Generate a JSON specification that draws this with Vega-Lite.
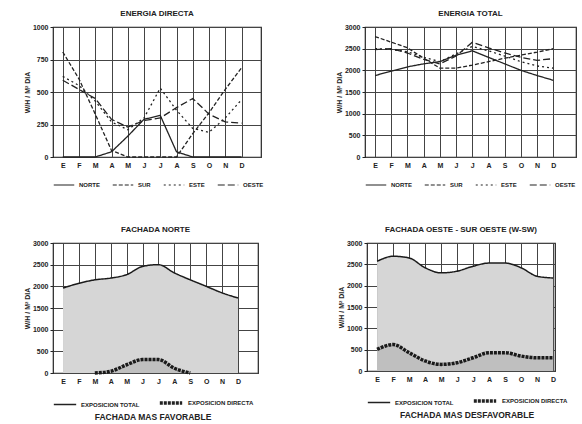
{
  "$schema": "https://vega.github.io/schema/vega-lite/v6.json",
  "background": "white",
  "padding": {"left": 22, "top": 9, "right": 2, "bottom": 0},
  "config": {
    "font": "Liberation Sans",
    "view": {"stroke": "#222", "strokeWidth": 1.2},
    "axis": {
      "labelFont": "Liberation Sans", "labelFontSize": 7, "labelFontWeight": "bold", "labelColor": "#222",
      "titleFont": "Liberation Sans", "titleFontSize": 7, "titleFontWeight": "bold", "titleColor": "#222",
      "domain": false, "grid": true, "gridColor": "#444", "gridOpacity": 1, "gridWidth": 1, "tickColor": "#222", "zindex": 1
    },
    "title": {"font": "Liberation Sans", "fontSize": 8, "fontWeight": "bold", "color": "#222", "offset": 5},
    "legend": {"labelFont": "Liberation Sans", "labelFontSize": 6, "labelFontWeight": "bold", "labelColor": "#222",
      "titleFont": "Liberation Sans", "titleColor": "#222"}
  },
  "datasets": {
    "directa": [
      {"mes": 1, "orient": "NORTE", "v": 0}, {"mes": 2, "orient": "NORTE", "v": 0}, {"mes": 3, "orient": "NORTE", "v": 0},
      {"mes": 4, "orient": "NORTE", "v": 40}, {"mes": 5, "orient": "NORTE", "v": 160}, {"mes": 6, "orient": "NORTE", "v": 290},
      {"mes": 7, "orient": "NORTE", "v": 320}, {"mes": 8, "orient": "NORTE", "v": 40}, {"mes": 9, "orient": "NORTE", "v": 0},
      {"mes": 10, "orient": "NORTE", "v": 0}, {"mes": 11, "orient": "NORTE", "v": 0}, {"mes": 12, "orient": "NORTE", "v": 0},
      {"mes": 1, "orient": "SUR", "v": 808}, {"mes": 2, "orient": "SUR", "v": 600}, {"mes": 3, "orient": "SUR", "v": 330},
      {"mes": 4, "orient": "SUR", "v": 50}, {"mes": 5, "orient": "SUR", "v": 0}, {"mes": 6, "orient": "SUR", "v": 0},
      {"mes": 7, "orient": "SUR", "v": 0}, {"mes": 8, "orient": "SUR", "v": 0}, {"mes": 9, "orient": "SUR", "v": 180},
      {"mes": 10, "orient": "SUR", "v": 340}, {"mes": 11, "orient": "SUR", "v": 520}, {"mes": 12, "orient": "SUR", "v": 685},
      {"mes": 1, "orient": "ESTE", "v": 620}, {"mes": 2, "orient": "ESTE", "v": 550}, {"mes": 3, "orient": "ESTE", "v": 430},
      {"mes": 4, "orient": "ESTE", "v": 270}, {"mes": 5, "orient": "ESTE", "v": 210}, {"mes": 6, "orient": "ESTE", "v": 300},
      {"mes": 7, "orient": "ESTE", "v": 530}, {"mes": 8, "orient": "ESTE", "v": 360}, {"mes": 9, "orient": "ESTE", "v": 220},
      {"mes": 10, "orient": "ESTE", "v": 190}, {"mes": 11, "orient": "ESTE", "v": 300}, {"mes": 12, "orient": "ESTE", "v": 440},
      {"mes": 1, "orient": "OESTE", "v": 590}, {"mes": 2, "orient": "OESTE", "v": 520}, {"mes": 3, "orient": "OESTE", "v": 450},
      {"mes": 4, "orient": "OESTE", "v": 290}, {"mes": 5, "orient": "OESTE", "v": 230}, {"mes": 6, "orient": "OESTE", "v": 280},
      {"mes": 7, "orient": "OESTE", "v": 300}, {"mes": 8, "orient": "OESTE", "v": 380}, {"mes": 9, "orient": "OESTE", "v": 450},
      {"mes": 10, "orient": "OESTE", "v": 330}, {"mes": 11, "orient": "OESTE", "v": 270}, {"mes": 12, "orient": "OESTE", "v": 260}
    ],
    "total": [
      {"mes": 1, "orient": "NORTE", "v": 1880}, {"mes": 2, "orient": "NORTE", "v": 1980}, {"mes": 3, "orient": "NORTE", "v": 2080},
      {"mes": 4, "orient": "NORTE", "v": 2150}, {"mes": 5, "orient": "NORTE", "v": 2200}, {"mes": 6, "orient": "NORTE", "v": 2350},
      {"mes": 7, "orient": "NORTE", "v": 2450}, {"mes": 8, "orient": "NORTE", "v": 2300}, {"mes": 9, "orient": "NORTE", "v": 2150},
      {"mes": 10, "orient": "NORTE", "v": 2000}, {"mes": 11, "orient": "NORTE", "v": 1880}, {"mes": 12, "orient": "NORTE", "v": 1770},
      {"mes": 1, "orient": "SUR", "v": 2780}, {"mes": 2, "orient": "SUR", "v": 2650}, {"mes": 3, "orient": "SUR", "v": 2520},
      {"mes": 4, "orient": "SUR", "v": 2280}, {"mes": 5, "orient": "SUR", "v": 2050}, {"mes": 6, "orient": "SUR", "v": 2050},
      {"mes": 7, "orient": "SUR", "v": 2120}, {"mes": 8, "orient": "SUR", "v": 2200}, {"mes": 9, "orient": "SUR", "v": 2280},
      {"mes": 10, "orient": "SUR", "v": 2350}, {"mes": 11, "orient": "SUR", "v": 2420}, {"mes": 12, "orient": "SUR", "v": 2500},
      {"mes": 1, "orient": "ESTE", "v": 2500}, {"mes": 2, "orient": "ESTE", "v": 2480}, {"mes": 3, "orient": "ESTE", "v": 2430},
      {"mes": 4, "orient": "ESTE", "v": 2300}, {"mes": 5, "orient": "ESTE", "v": 2200}, {"mes": 6, "orient": "ESTE", "v": 2380},
      {"mes": 7, "orient": "ESTE", "v": 2550}, {"mes": 8, "orient": "ESTE", "v": 2450}, {"mes": 9, "orient": "ESTE", "v": 2330},
      {"mes": 10, "orient": "ESTE", "v": 2200}, {"mes": 11, "orient": "ESTE", "v": 2100}, {"mes": 12, "orient": "ESTE", "v": 2050},
      {"mes": 1, "orient": "OESTE", "v": 2480}, {"mes": 2, "orient": "OESTE", "v": 2500}, {"mes": 3, "orient": "OESTE", "v": 2400},
      {"mes": 4, "orient": "OESTE", "v": 2250}, {"mes": 5, "orient": "OESTE", "v": 2150}, {"mes": 6, "orient": "OESTE", "v": 2330},
      {"mes": 7, "orient": "OESTE", "v": 2650}, {"mes": 8, "orient": "OESTE", "v": 2520}, {"mes": 9, "orient": "OESTE", "v": 2400},
      {"mes": 10, "orient": "OESTE", "v": 2300}, {"mes": 11, "orient": "OESTE", "v": 2230}, {"mes": 12, "orient": "OESTE", "v": 2270}
    ],
    "norte": [
      {"mes": 1, "serie": "EXPOSICION TOTAL", "v": 1960}, {"mes": 2, "serie": "EXPOSICION TOTAL", "v": 2070},
      {"mes": 3, "serie": "EXPOSICION TOTAL", "v": 2150}, {"mes": 4, "serie": "EXPOSICION TOTAL", "v": 2190},
      {"mes": 5, "serie": "EXPOSICION TOTAL", "v": 2270}, {"mes": 6, "serie": "EXPOSICION TOTAL", "v": 2460},
      {"mes": 7, "serie": "EXPOSICION TOTAL", "v": 2500}, {"mes": 8, "serie": "EXPOSICION TOTAL", "v": 2310},
      {"mes": 9, "serie": "EXPOSICION TOTAL", "v": 2150}, {"mes": 10, "serie": "EXPOSICION TOTAL", "v": 2000},
      {"mes": 11, "serie": "EXPOSICION TOTAL", "v": 1850}, {"mes": 12, "serie": "EXPOSICION TOTAL", "v": 1730},
      {"mes": 3, "serie": "EXPOSICION DIRECTA", "v": 0}, {"mes": 4, "serie": "EXPOSICION DIRECTA", "v": 40},
      {"mes": 5, "serie": "EXPOSICION DIRECTA", "v": 190}, {"mes": 6, "serie": "EXPOSICION DIRECTA", "v": 310},
      {"mes": 7, "serie": "EXPOSICION DIRECTA", "v": 310}, {"mes": 8, "serie": "EXPOSICION DIRECTA", "v": 110},
      {"mes": 9, "serie": "EXPOSICION DIRECTA", "v": 0}
    ],
    "oeste": [
      {"mes": 1, "serie": "EXPOSICION TOTAL", "v": 2570}, {"mes": 2, "serie": "EXPOSICION TOTAL", "v": 2690},
      {"mes": 3, "serie": "EXPOSICION TOTAL", "v": 2650}, {"mes": 4, "serie": "EXPOSICION TOTAL", "v": 2420},
      {"mes": 5, "serie": "EXPOSICION TOTAL", "v": 2300}, {"mes": 6, "serie": "EXPOSICION TOTAL", "v": 2340},
      {"mes": 7, "serie": "EXPOSICION TOTAL", "v": 2455}, {"mes": 8, "serie": "EXPOSICION TOTAL", "v": 2530},
      {"mes": 9, "serie": "EXPOSICION TOTAL", "v": 2530}, {"mes": 10, "serie": "EXPOSICION TOTAL", "v": 2420},
      {"mes": 11, "serie": "EXPOSICION TOTAL", "v": 2220}, {"mes": 12, "serie": "EXPOSICION TOTAL", "v": 2180},
      {"mes": 1, "serie": "EXPOSICION DIRECTA", "v": 505}, {"mes": 2, "serie": "EXPOSICION DIRECTA", "v": 620},
      {"mes": 3, "serie": "EXPOSICION DIRECTA", "v": 430}, {"mes": 4, "serie": "EXPOSICION DIRECTA", "v": 235},
      {"mes": 5, "serie": "EXPOSICION DIRECTA", "v": 155}, {"mes": 6, "serie": "EXPOSICION DIRECTA", "v": 195},
      {"mes": 7, "serie": "EXPOSICION DIRECTA", "v": 310}, {"mes": 8, "serie": "EXPOSICION DIRECTA", "v": 430},
      {"mes": 9, "serie": "EXPOSICION DIRECTA", "v": 430}, {"mes": 10, "serie": "EXPOSICION DIRECTA", "v": 350},
      {"mes": 11, "serie": "EXPOSICION DIRECTA", "v": 310}, {"mes": 12, "serie": "EXPOSICION DIRECTA", "v": 310}
    ]
  },
  "resolve": {"scale": {"strokeDash": "independent", "strokeWidth": "independent"}, "legend": {"strokeDash": "independent", "strokeWidth": "independent"}},
  "spacing": 36,
  "vconcat": [
    {
      "spacing": 69,
      "resolve": {"scale": {"strokeDash": "independent", "strokeWidth": "independent"}, "legend": {"strokeDash": "independent", "strokeWidth": "independent"}},
      "hconcat": [
        {
          "width": 208, "height": 130,
          "title": "ENERGIA DIRECTA",
          "data": {"name": "directa"},
          "mark": {"type": "line", "color": "#222", "strokeWidth": 1.3},
          "encoding": {
            "x": {"field": "mes", "type": "quantitative", "scale": {"domain": [0.4, 13.2], "nice": false, "zero": false},
              "axis": {"values": [1,2,3,4,5,6,7,8,9,10,11,12], "grid": true, "title": null, "ticks": false, "labelPadding": 4,
                "labelExpr": "['','E','F','M','A','M','J','J','A','S','O','N','D'][datum.value]"}},
            "y": {"field": "v", "type": "quantitative", "scale": {"domain": [0, 1000], "nice": false},
              "axis": {"values": [0, 250, 500, 750, 1000], "grid": true, "format": "d", "title": "W/H / M² DIA", "tickSize": 3, "titlePadding": 2}},
            "strokeDash": {"field": "orient", "type": "nominal",
              "scale": {"domain": ["NORTE", "SUR", "ESTE", "OESTE"], "range": [[1, 0], [4, 2], [2, 3], [7, 3]]},
              "legend": {"orient": "bottom", "direction": "horizontal", "title": null, "symbolType": "stroke",
                "symbolStrokeColor": "#222", "symbolStrokeWidth": 1.2, "symbolSize": 420, "offset": 6, "columnPadding": 10}}
          }
        },
        {
          "width": 211, "height": 130,
          "title": "ENERGIA TOTAL",
          "data": {"name": "total"},
          "mark": {"type": "line", "color": "#222", "strokeWidth": 1.3},
          "encoding": {
            "x": {"field": "mes", "type": "quantitative", "scale": {"domain": [0.38, 13.4], "nice": false, "zero": false},
              "axis": {"values": [1,2,3,4,5,6,7,8,9,10,11,12], "grid": true, "title": null, "ticks": false, "labelPadding": 4,
                "labelExpr": "['','E','F','M','A','M','J','J','A','S','O','N','D'][datum.value]"}},
            "y": {"field": "v", "type": "quantitative", "scale": {"domain": [0, 3000], "nice": false},
              "axis": {"values": [0, 500, 1000, 1500, 2000, 2500, 3000], "grid": true, "format": "d", "title": "W/H / M² DIA", "tickSize": 3, "titlePadding": 2}},
            "strokeDash": {"field": "orient", "type": "nominal",
              "scale": {"domain": ["NORTE", "SUR", "ESTE", "OESTE"], "range": [[1, 0], [4, 2], [2, 3], [7, 3]]},
              "legend": {"orient": "bottom", "direction": "horizontal", "title": null, "symbolType": "stroke",
                "symbolStrokeColor": "#222", "symbolStrokeWidth": 1.2, "symbolSize": 420, "offset": 6, "columnPadding": 10}}
          }
        }
      ]
    },
    {
      "spacing": 77,
      "resolve": {"scale": {"strokeDash": "independent", "strokeWidth": "independent"}, "legend": {"strokeDash": "independent", "strokeWidth": "independent"}},
      "hconcat": [
        {
          "width": 205, "height": 130,
          "title": "FACHADA NORTE",
          "data": {"name": "norte"},
          "encoding": {
            "x": {"field": "mes", "type": "quantitative", "scale": {"domain": [0.37, 13.26], "nice": false, "zero": false},
              "axis": {"values": [1,2,3,4,5,6,7,8,9,10,11,12], "grid": true, "title": null, "ticks": false, "labelPadding": 4,
                "labelExpr": "['','E','F','M','A','M','J','J','A','S','O','N','D'][datum.value]"}},
            "y": {"field": "v", "type": "quantitative", "scale": {"domain": [0, 3000], "nice": false},
              "axis": {"values": [0, 500, 1000, 1500, 2000, 2500, 3000], "grid": true, "format": "d", "title": "W/H / M² DIA", "tickSize": 3, "titlePadding": 2}}
          },
          "layer": [
            {"transform": [{"filter": "datum.serie == 'EXPOSICION TOTAL'"}],
             "mark": {"type": "area", "interpolate": "monotone", "color": "#d6d6d6"}},
            {"transform": [{"filter": "datum.serie == 'EXPOSICION DIRECTA'"}],
             "mark": {"type": "area", "interpolate": "monotone", "color": "#bfbfbf"}},
            {"mark": {"type": "line", "interpolate": "monotone", "color": "#1a1a1a"},
             "encoding": {
               "strokeDash": {"field": "serie", "type": "nominal",
                 "scale": {"domain": ["EXPOSICION TOTAL", "EXPOSICION DIRECTA"], "range": [[1, 0], [3, 1]]},
                 "legend": {"orient": "bottom", "direction": "horizontal", "title": "FACHADA MAS FAVORABLE", "titleOrient": "bottom",
                   "titleFontSize": 8.5, "titleFontWeight": "bold", "titleAnchor": "middle", "titlePadding": 3,
                   "symbolType": "stroke", "symbolStrokeColor": "#222", "symbolSize": 500, "offset": 6, "columnPadding": 12}},
               "strokeWidth": {"field": "serie", "type": "nominal",
                 "scale": {"domain": ["EXPOSICION TOTAL", "EXPOSICION DIRECTA"], "range": [1.5, 3.5]},
                 "legend": {"orient": "bottom", "direction": "horizontal", "title": "FACHADA MAS FAVORABLE", "titleOrient": "bottom",
                   "titleFontSize": 8.5, "titleFontWeight": "bold", "titleAnchor": "middle", "titlePadding": 3,
                   "symbolType": "stroke", "symbolStrokeColor": "#222", "symbolSize": 500, "offset": 6, "columnPadding": 12}}
             }}
          ]
        },
        {
          "width": 188, "height": 128,
          "title": "FACHADA OESTE - SUR OESTE (W-SW)",
          "data": {"name": "oeste"},
          "encoding": {
            "x": {"field": "mes", "type": "quantitative", "scale": {"domain": [0.37, 12.12], "nice": false, "zero": false},
              "axis": {"values": [1,2,3,4,5,6,7,8,9,10,11,12], "grid": true, "title": null, "ticks": false, "labelPadding": 4,
                "labelExpr": "['','E','F','M','A','M','J','J','A','S','O','N','D'][datum.value]"}},
            "y": {"field": "v", "type": "quantitative", "scale": {"domain": [0, 3000], "nice": false},
              "axis": {"values": [0, 500, 1000, 1500, 2000, 2500, 3000], "grid": true, "format": "d", "title": "W/H / M² DIA", "tickSize": 3, "titlePadding": 2}}
          },
          "layer": [
            {"transform": [{"filter": "datum.serie == 'EXPOSICION TOTAL'"}],
             "mark": {"type": "area", "interpolate": "monotone", "color": "#d6d6d6"}},
            {"transform": [{"filter": "datum.serie == 'EXPOSICION DIRECTA'"}],
             "mark": {"type": "area", "interpolate": "monotone", "color": "#bfbfbf"}},
            {"mark": {"type": "line", "interpolate": "monotone", "color": "#1a1a1a"},
             "encoding": {
               "strokeDash": {"field": "serie", "type": "nominal",
                 "scale": {"domain": ["EXPOSICION TOTAL", "EXPOSICION DIRECTA"], "range": [[1, 0], [3, 1]]},
                 "legend": {"orient": "bottom", "direction": "horizontal", "title": "FACHADA MAS DESFAVORABLE", "titleOrient": "bottom",
                   "titleFontSize": 8.5, "titleFontWeight": "bold", "titleAnchor": "middle", "titlePadding": 3,
                   "symbolType": "stroke", "symbolStrokeColor": "#222", "symbolSize": 500, "offset": 6, "columnPadding": 12}},
               "strokeWidth": {"field": "serie", "type": "nominal",
                 "scale": {"domain": ["EXPOSICION TOTAL", "EXPOSICION DIRECTA"], "range": [1.5, 3.5]},
                 "legend": {"orient": "bottom", "direction": "horizontal", "title": "FACHADA MAS DESFAVORABLE", "titleOrient": "bottom",
                   "titleFontSize": 8.5, "titleFontWeight": "bold", "titleAnchor": "middle", "titlePadding": 3,
                   "symbolType": "stroke", "symbolStrokeColor": "#222", "symbolSize": 500, "offset": 6, "columnPadding": 12}}
             }}
          ]
        }
      ]
    }
  ]
}
